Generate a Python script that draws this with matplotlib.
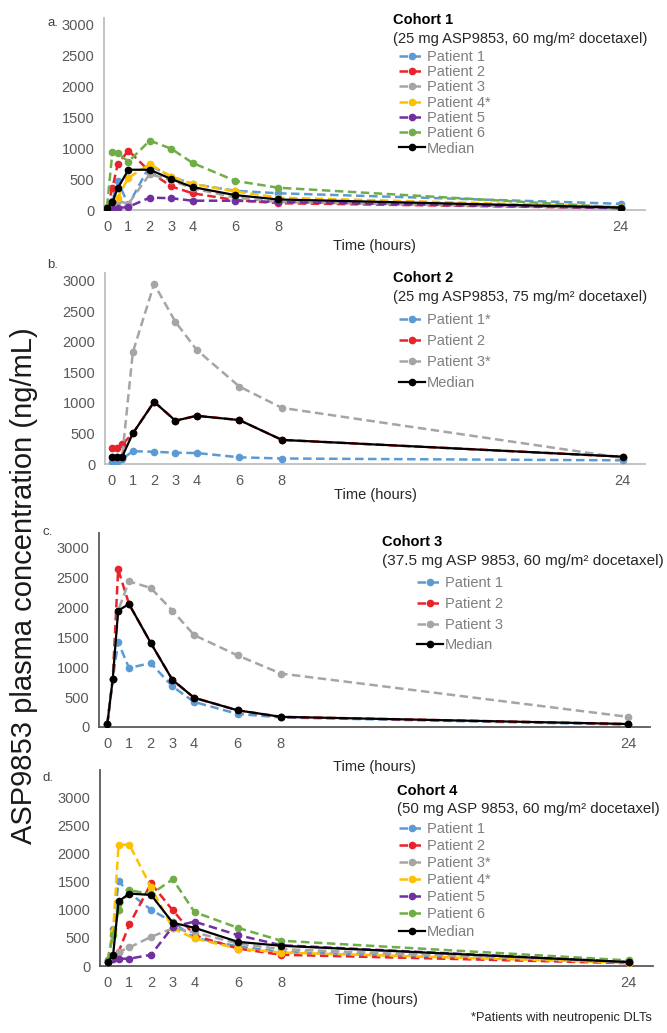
import matplotlib
matplotlib.use("Agg")
import matplotlib.pyplot as plt

plt.rcParams['font.family'] = ['Liberation Sans', 'DejaVu Sans']

W, H = 667, 1033

# ---------------- data ----------------
time_h = [0, 0.25, 0.5, 1, 2, 3, 4, 6, 8, 24]
x_ticks = [0, 1, 2, 3, 4, 6, 8, 24]
y_ticks = [0, 500, 1000, 1500, 2000, 2500, 3000]

c1_p1 = [30, 150, 470, 80, 720, 540, 420, 310, 270, 100]
c1_p2 = [30, 350, 740, 960, 620, 380, 270, 160, 110, 30]
c1_p3 = [30, 60, 150, 100, 580, 480, 350, 200, 130, 30]
c1_p4 = [30, 80, 200, 520, 740, 540, 420, 300, 200, 50]
c1_p5 = [30, 30, 30, 50, 200, 190, 150, 150, 130, 30]
c1_p6 = [50, 930, 920, 780, 1120, 990, 760, 470, 360, 40]
c1_med = [30, 130, 350, 650, 650, 500, 370, 240, 170, 40]

c2_p1 = [30, 40, 80, 210, 200, 185, 180, 110, 90, 60]
c2_p2 = [260, 270, 320, 500, 1020, 710, 790, 720, 395, 120]
c2_p3 = [120, 120, 120, 1830, 2950, 2330, 1870, 1270, 920, 100]
c2_med = [120, 120, 120, 500, 1020, 710, 790, 720, 395, 120]

c3_p1 = [50, 800, 1420, 990, 1070, 680, 420, 220, 160, 40]
c3_p2 = [50, 800, 2640, 2060, 1410, 790, 490, 280, 170, 50]
c3_p3 = [50, 800, 1950, 2440, 2330, 1950, 1540, 1200, 895, 170]
c3_med = [50, 800, 1950, 2060, 1410, 790, 490, 280, 170, 50]

c4_p1 = [100, 650, 1510, 1300, 1000, 780, 500, 350, 250, 70]
c4_p2 = [80, 150, 250, 740, 1470, 990, 545, 310, 200, 50]
c4_p3 = [80, 150, 250, 330, 520, 670, 600, 400, 300, 60]
c4_p4 = [100, 600, 2160, 2160, 1400, 670, 490, 310, 240, 60]
c4_p5 = [80, 120, 130, 130, 200, 700, 790, 550, 370, 70]
c4_p6 = [100, 550, 1000, 1350, 1280, 1545, 960, 680, 450, 100]
c4_med = [70, 200, 1150, 1290, 1265, 770, 680, 430, 360, 70]

COL = {
    'blue': '#5b9bd5', 'red': '#e8232b', 'grey': '#a5a5a5', 'yellow': '#ffc000',
    'purple': '#7030a0', 'green': '#70ad47', 'black': '#000000',
}

panels = [
    dict(letter='a.', title='Cohort 1', sub='(25 mg ASP9853, 60 mg/m\u00b2 docetaxel)',
         series=[('Patient 1', c1_p1, 'blue'), ('Patient 2', c1_p2, 'red'),
                 ('Patient 3', c1_p3, 'grey'), ('Patient 4*', c1_p4, 'yellow'),
                 ('Patient 5', c1_p5, 'purple'), ('Patient 6', c1_p6, 'green'),
                 ('Median', c1_med, 'black')],
         box=(104, 18, 645, 210), x0=107, xs=21.4, ylim_top=3100,
         spine='#bfbfbf', xlabel_y=246, letter_xy=(53, 23),
         title_xy=(393, 20), sub_y=39, leg_x=399, leg_y0=57.3, leg_step=15.2,
         subfs=10.6),
    dict(letter='b.', title='Cohort 2', sub='(25 mg ASP9853, 75 mg/m\u00b2 docetaxel)',
         series=[('Patient 1*', c2_p1, 'blue'), ('Patient 2', c2_p2, 'red'),
                 ('Patient 3*', c2_p3, 'grey'), ('Median', c2_med, 'black')],
         box=(105, 273, 645, 464), x0=111.5, xs=21.3, ylim_top=3130,
         spine='#bfbfbf', xlabel_y=495, letter_xy=(53, 265),
         title_xy=(393, 278), sub_y=297, leg_x=399, leg_y0=320, leg_step=21.0,
         subfs=10.6),
    dict(letter='c.', title='Cohort 3', sub='(37.5 mg ASP 9853, 60 mg/m\u00b2 docetaxel)',
         series=[('Patient 1', c3_p1, 'blue'), ('Patient 2', c3_p2, 'red'),
                 ('Patient 3', c3_p3, 'grey'), ('Median', c3_med, 'black')],
         box=(99, 533, 650, 727), x0=107.3, xs=21.7, ylim_top=3250,
         spine='#595959', xlabel_y=767, letter_xy=(48, 532),
         title_xy=(382, 542), sub_y=561, leg_x=417, leg_y0=583.5, leg_step=20.7,
         subfs=11.1),
    dict(letter='d.', title='Cohort 4', sub='(50 mg ASP 9853, 60 mg/m\u00b2 docetaxel)',
         series=[('Patient 1', c4_p1, 'blue'), ('Patient 2', c4_p2, 'red'),
                 ('Patient 3*', c4_p3, 'grey'), ('Patient 4*', c4_p4, 'yellow'),
                 ('Patient 5', c4_p5, 'purple'), ('Patient 6', c4_p6, 'green'),
                 ('Median', c4_med, 'black')],
         box=(100, 770, 653, 966), x0=107.7, xs=21.7, ylim_top=3490,
         spine='#595959', xlabel_y=1000, letter_xy=(48, 778),
         title_xy=(397, 791), sub_y=809, leg_x=399, leg_y0=829, leg_step=17.1,
         subfs=10.8),
]

fig = plt.figure(figsize=(W / 100, H / 100), dpi=100)

TICK_C = '#595959'
for p in panels:
    l, t, r, b = p['box']
    ax = fig.add_axes([l / W, 1 - b / H, (r - l) / W, (b - t) / H])
    ax.set_xlim((l - p['x0']) / p['xs'], (r - p['x0']) / p['xs'])
    ax.set_ylim(0, p['ylim_top'])
    handles, labels = [], []
    for name, vals, c in p['series']:
        if c == 'black':
            ln, = ax.plot(time_h, vals, color='black', lw=1.6, marker='o',
                          ms=4.5, zorder=5)
        else:
            ln, = ax.plot(time_h, vals, color=COL[c], lw=1.8,
                          linestyle=(0, (3.4, 1.8)), marker='o', ms=4.5,
                          zorder=3)
        handles.append(ln)
        labels.append(name)
    ax.set_xticks(x_ticks)
    ax.set_yticks(y_ticks)
    ax.tick_params(axis='both', length=0, labelsize=10.5, colors=TICK_C)
    ax.tick_params(axis='y', pad=7)
    ax.tick_params(axis='x', pad=7)
    for s in ('top', 'right'):
        ax.spines[s].set_visible(False)
    for s in ('left', 'bottom'):
        ax.spines[s].set_color(p['spine'])
        ax.spines[s].set_linewidth(1.3)
    ax.patch.set_alpha(0)

    ax.set_xlabel('Time (hours)', fontsize=10.5, color='#262626')
    ax.xaxis.set_label_coords(0.5, (b - p['xlabel_y']) / (b - t), transform=ax.transAxes)
    ax.xaxis.label.set_va('center')

    fig.text(p['letter_xy'][0] / W, 1 - p['letter_xy'][1] / H, p['letter'],
             fontsize=9.5, color='#404040', ha='center', va='center')
    fig.text(p['title_xy'][0] / W, 1 - p['title_xy'][1] / H, p['title'],
             fontsize=10.5, fontweight='bold', color='black', ha='left', va='center')
    fig.text(p['title_xy'][0] / W, 1 - p['sub_y'] / H, p['sub'],
             fontsize=p['subfs'], color='#262626', ha='left', va='center')

    fs = 10.5
    fpx = fs * 100 / 72
    text_h = 1.01 * fpx - 0.8
    spacing = (p['leg_step'] - text_h) / fpx
    top_y = p['leg_y0'] - (1.01 * fpx) / 2
    ax.legend(handles, labels, loc='upper left',
              bbox_to_anchor=(p['leg_x'] / W, 1 - top_y / H),
              bbox_transform=fig.transFigure, frameon=False, borderpad=0,
              borderaxespad=0, handlelength=1.8, handletextpad=0.12,
              labelspacing=spacing, fontsize=fs, labelcolor='#7f7f7f',
              numpoints=1)

fig.text(24 / W, 1 - 586 / H, 'ASP9853 plasma concentration (ng/mL)',
         rotation=90, fontsize=21, ha='center', va='center', color='#1a1a1a')
fig.text(652 / W, 1 - 1018 / H, '*Patients with neutropenic DLTs',
         fontsize=9.3, ha='right', va='center', color='#262626')

fig.savefig('out.png', dpi=100)
